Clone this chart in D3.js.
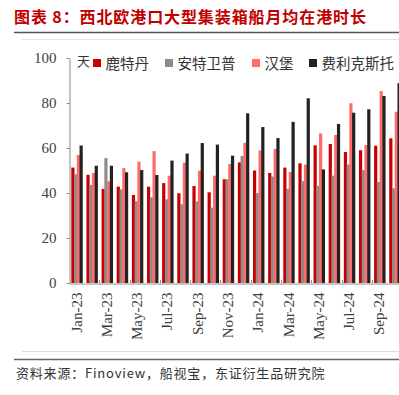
<!DOCTYPE html>
<html>
<head>
<meta charset="utf-8">
<script src="https://cdn.jsdelivr.net/npm/d3@7"></script>
<style>
  html, body { margin: 0; padding: 0; background: #fff; }
  svg { display: block; }
</style>
</head>
<body>
<div id="chart"></div>
<script>
  // 月份（类别）
  const months = ['Jan-23','Feb-23','Mar-23','Apr-23','May-23','Jun-23','Jul-23','Aug-23','Sep-23','Oct-23','Nov-23','Dec-23',
                  'Jan-24','Feb-24','Mar-24','Apr-24','May-24','Jun-24','Jul-24','Aug-24','Sep-24','Oct-24'];

  // 各港口月均在港时长（天）
  const rotterdam  = [51.3,48.1,41.8,42.8,39.1,42.8,44.4,39.9,43.1,40.3,46.1,53.6,50.0,48.9,51.3,53.2,61.2,61.8,58.2,59.0,61.0,64.3];
  const antwerp    = [48.3,43.6,55.5,41.6,36.4,38.1,37.2,35.0,36.3,33.5,46.1,56.4,40.0,47.3,41.9,45.3,43.2,47.7,52.7,50.2,44.9,42.1];
  const hamburg    = [56.9,48.9,45.2,51.1,53.9,58.6,47.7,53.5,49.9,47.7,52.9,62.3,58.9,59.6,49.3,52.6,66.5,65.8,79.9,61.3,85.3,76.1];
  const felixstowe = [61.1,52.1,52.1,49.2,50.2,48.0,54.4,57.5,62.2,61.5,56.6,75.4,69.3,64.4,71.6,82.1,50.5,70.7,75.7,77.2,83.1,88.8];

  const seriesNames = ['鹿特丹','安特卫普','汉堡','费利克斯托'];
  const seriesColors = ['#c80000','#8c8c8c','#ff6b6b','#222222'];
  const seriesValues = [rotterdam, antwerp, hamburg, felixstowe];

  const yTicks = [0,20,40,60,80,100];
  const xLabels = months.filter((m, i) => i % 2 === 0);

  const W = 399, H = 395;
  const svg = d3.select('#chart').append('svg').attr('width', W).attr('height', H);

  const serif = '"Liberation Serif","DejaVu Serif",serif';
  const cjk = '"Noto Sans CJK SC","Noto Sans",sans-serif';

  // 标题
  svg.append('text')
    .attr('x', 14).attr('y', 23)
    .attr('font-family', cjk).attr('font-size', 16).attr('font-weight', 'bold')
    .attr('letter-spacing', 0.9)
    .attr('fill', '#c00000')
    .text('图表 8：西北欧港口大型集装箱船月均在港时长');

  // 边框线
  svg.append('line').attr('x1', 14).attr('x2', W).attr('y1', 32.5).attr('y2', 32.5)
    .attr('stroke', '#555').attr('stroke-width', 1.5);
  svg.append('line').attr('x1', 22).attr('x2', W).attr('y1', 39.5).attr('y2', 39.5)
    .attr('stroke', '#e3e3e3').attr('stroke-width', 1);
  svg.append('line').attr('x1', 22).attr('x2', W).attr('y1', 351.5).attr('y2', 351.5)
    .attr('stroke', '#dcdcdc').attr('stroke-width', 1);
  svg.append('line').attr('x1', 14).attr('x2', W).attr('y1', 359.5).attr('y2', 359.5)
    .attr('stroke', '#666').attr('stroke-width', 1.5);

  // 比例尺
  const y = d3.scaleLinear().domain([0, 100]).range([283, 58]);
  const x = d3.scaleBand().domain(months).range([69, 69 + 22 * 15.14]).padding(0);
  const xs = d3.scaleBand().domain(d3.range(4)).range([2.3, 13.3]).padding(0);

  // 柱子
  const g = svg.append('g');
  seriesValues.forEach((vals, si) => {
    g.selectAll('.bar' + si)
      .data(vals)
      .join('rect')
      .attr('x', (d, i) => x(months[i]) + xs(si))
      .attr('y', d => y(d))
      .attr('width', 3.2)
      .attr('height', d => y(0) - y(d))
      .attr('fill', seriesColors[si]);
  });

  // Y轴
  const yAxis = svg.append('g')
    .attr('transform', 'translate(69.5,0)')
    .call(d3.axisLeft(y).tickValues(yTicks).tickSize(3).tickSizeOuter(0));
  yAxis.select('.domain').attr('stroke', '#8a8a8a');
  yAxis.selectAll('.tick line').attr('stroke', '#8a8a8a');
  yAxis.selectAll('.tick text')
    .attr('x', -13)
    .attr('font-family', serif).attr('font-size', 15).attr('fill', '#404040');

  // X轴
  const xAxis = svg.append('g')
    .attr('transform', 'translate(0,283.5)')
    .call(d3.axisBottom(x).tickValues(xLabels).tickSize(0).tickSizeOuter(0));
  xAxis.select('.domain').attr('stroke', '#8a8a8a');
  xAxis.selectAll('.tick text')
    .attr('font-family', serif).attr('font-size', 15).attr('fill', '#404040')
    .attr('text-anchor', 'end')
    .attr('transform', 'translate(5,9) rotate(-90)')
    .attr('x', 0).attr('y', 0).attr('dy', 0);

  // 类别分隔小刻度（朝上）
  svg.append('g').selectAll('line')
    .data(xLabels.slice(1))
    .join('line')
    .attr('x1', d => Math.round(x(d)) + 0.5).attr('x2', d => Math.round(x(d)) + 0.5)
    .attr('y1', 280).attr('y2', 283)
    .attr('stroke', '#8a8a8a');

  // 单位
  svg.append('text')
    .attr('x', 77).attr('y', 66)
    .attr('font-family', cjk).attr('font-size', 13).attr('fill', '#333')
    .text('天');

  // 图例
  const legendX = [93, 165, 252, 309];
  seriesNames.forEach((name, i) => {
    const lg = svg.append('g').attr('transform', `translate(${legendX[i]},63)`);
    lg.append('rect').attr('x', 0).attr('y', -4).attr('width', 8).attr('height', 8)
      .attr('fill', seriesColors[i]);
    lg.append('text').attr('x', 12.5).attr('y', 5.5)
      .attr('font-family', cjk).attr('font-size', 14.5).attr('fill', '#333')
      .text(name);
  });

  // 资料来源
  svg.append('text')
    .attr('x', 16).attr('y', 378)
    .attr('font-family', cjk).attr('font-size', 13).attr('letter-spacing', 0.8)
    .attr('fill', '#333')
    .text('资料来源：Finoview，船视宝，东证衍生品研究院');
</script>
</body>
</html>
